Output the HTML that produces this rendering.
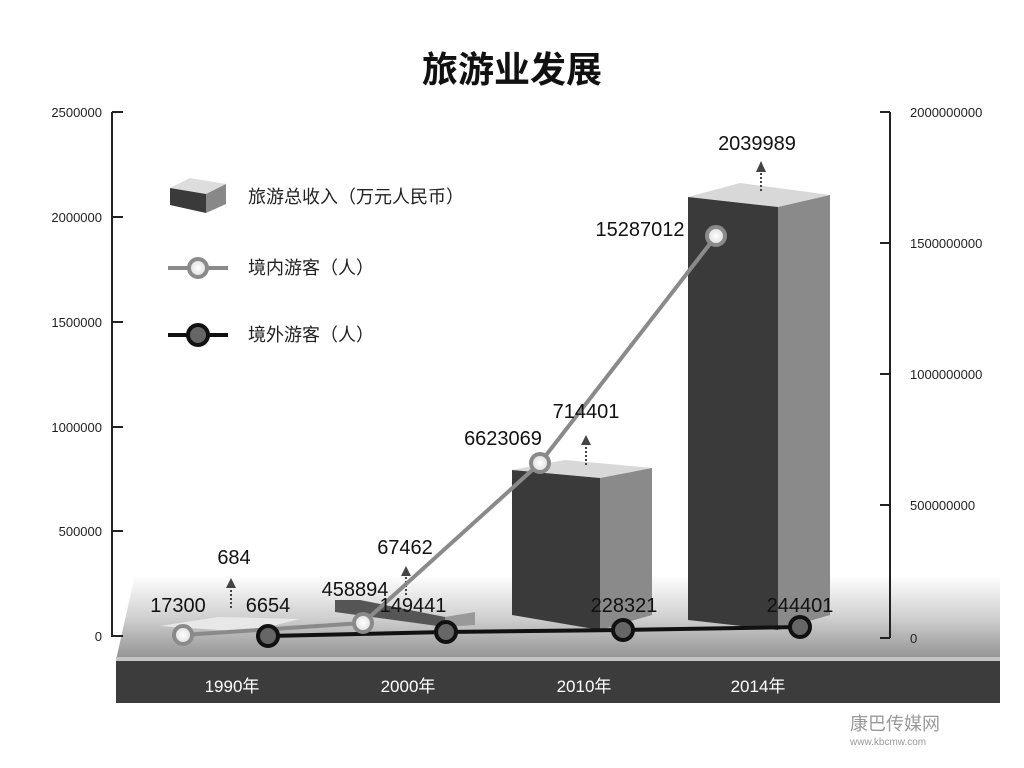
<!DOCTYPE html>
<html><head><meta charset="utf-8"><style>
html,body{margin:0;padding:0;background:#fff;}
svg{display:block;font-family:"Liberation Sans","Noto Sans CJK SC",sans-serif;}
</style></head><body>
<svg width="1024" height="768" viewBox="0 0 1024 768">
<defs>
<linearGradient id="fl" x1="0" y1="0" x2="0" y2="1">
<stop offset="0" stop-color="#ffffff"/><stop offset="0.5" stop-color="#d0d0d0"/><stop offset="0.75" stop-color="#b0b0b0"/><stop offset="1" stop-color="#909090"/>
</linearGradient>
<radialGradient id="lc"><stop offset="0" stop-color="#fff"/><stop offset="1" stop-color="#ddd"/></radialGradient>
</defs>
<rect width="1024" height="768" fill="#fff"/>
<text x="512" y="82" font-size="36" text-anchor="middle" fill="#111" font-weight="bold">旅游业发展</text>
<!-- floor -->
<polygon points="135,575 1000,575 1000,660 116,660" fill="url(#fl)"/>
<rect x="116" y="657" width="884" height="4" fill="#c4c4c4"/>
<rect x="116" y="661" width="884" height="42" fill="#3c3c3c"/>
<g font-size="17" fill="#fff" text-anchor="middle">
<text x="232" y="692">1990年</text><text x="408" y="692">2000年</text><text x="584" y="692">2010年</text><text x="758" y="692">2014年</text></g>
<g stroke="#222" stroke-width="2"><line x1="112" y1="112" x2="112" y2="637"/>
<line x1="112" y1="112" x2="123" y2="112"/><line x1="112" y1="217" x2="123" y2="217"/><line x1="112" y1="322" x2="123" y2="322"/><line x1="112" y1="427" x2="123" y2="427"/><line x1="112" y1="531" x2="123" y2="531"/><line x1="112" y1="636" x2="123" y2="636"/>
<line x1="890" y1="112" x2="890" y2="638"/>
<line x1="880" y1="112" x2="890" y2="112"/><line x1="880" y1="243" x2="890" y2="243"/><line x1="880" y1="374" x2="890" y2="374"/><line x1="880" y1="505" x2="890" y2="505"/><line x1="880" y1="638" x2="890" y2="638"/></g>
<g font-size="13" fill="#222" text-anchor="end">
<text x="102" y="117">2500000</text><text x="102" y="222">2000000</text><text x="102" y="327">1500000</text><text x="102" y="432">1000000</text><text x="102" y="536">500000</text><text x="102" y="641">0</text></g>
<g font-size="13" fill="#222">
<text x="910" y="117">2000000000</text><text x="910" y="248">1500000000</text><text x="910" y="379">1000000000</text><text x="910" y="510">500000000</text><text x="910" y="643">0</text></g>
<polygon points="160,626 218,617 300,619 248,632" fill="#e8e8e8"/>
<polygon points="335,600 360,600 445,617 445,627 335,612" fill="#555"/>
<polygon points="445,617 475,612 475,625 445,627" fill="#999"/>
<polygon points="512,470 600,478 652,468 565,460" fill="#d8d8d8"/>
<polygon points="512,470 600,478 600,630 512,615" fill="#3a3a3a"/>
<polygon points="600,478 652,468 652,615 600,630" fill="#8a8a8a"/>
<polygon points="688,197 778,207 830,195 740,183" fill="#d8d8d8"/>
<polygon points="688,197 778,207 778,630 688,620" fill="#3a3a3a"/>
<polygon points="778,207 830,195 830,615 778,630" fill="#8a8a8a"/>
<g stroke="#444" stroke-width="2" stroke-dasharray="2,2"><line x1="231" y1="608" x2="231" y2="586"/><line x1="406" y1="595" x2="406" y2="574"/><line x1="586" y1="465" x2="586" y2="443"/><line x1="761" y1="191" x2="761" y2="170"/></g>
<g fill="#444"><polygon points="226,588 236,588 231,578"/><polygon points="401,576 411,576 406,566"/><polygon points="581,445 591,445 586,435"/><polygon points="756,172 766,172 761,161"/></g>
<polyline points="183,635 363,623 540,463 716,236" fill="none" stroke="#8a8a8a" stroke-width="4"/>
<polyline points="268,636 446,632 623,630 800,627" fill="none" stroke="#111" stroke-width="4"/>
<g fill="url(#lc)" stroke="#8a8a8a" stroke-width="4"><circle cx="183" cy="635" r="9"/><circle cx="363" cy="623" r="9"/><circle cx="540" cy="463" r="9"/><circle cx="716" cy="236" r="9"/></g>
<g fill="#666" stroke="#111" stroke-width="4"><circle cx="268" cy="636" r="10"/><circle cx="446" cy="632" r="10"/><circle cx="623" cy="630" r="10"/><circle cx="800" cy="627" r="10"/></g>
<g font-size="20" fill="#111" text-anchor="middle">
<text x="178" y="612">17300</text><text x="234" y="564">684</text><text x="268" y="612">6654</text>
<text x="355" y="596">458894</text><text x="405" y="554">67462</text><text x="413" y="612">149441</text>
<text x="503" y="445">6623069</text><text x="586" y="418">714401</text><text x="624" y="612">228321</text>
<text x="640" y="236">15287012</text><text x="757" y="150">2039989</text><text x="800" y="612">244401</text></g>
<polygon points="170,188 190,178 226,184 206,194" fill="#ddd"/>
<polygon points="170,188 206,194 206,213 170,205" fill="#3a3a3a"/>
<polygon points="206,194 226,184 226,204 206,213" fill="#888"/>
<g font-size="18" fill="#222"><text x="248" y="203">旅游总收入（万元人民币）</text><text x="248" y="274">境内游客（人）</text><text x="248" y="341">境外游客（人）</text></g>
<line x1="168" y1="268" x2="228" y2="268" stroke="#8a8a8a" stroke-width="4"/>
<circle cx="198" cy="268" r="9" fill="url(#lc)" stroke="#8a8a8a" stroke-width="4"/>
<line x1="168" y1="335" x2="228" y2="335" stroke="#111" stroke-width="4"/>
<circle cx="198" cy="335" r="10" fill="#666" stroke="#111" stroke-width="4"/>
<text x="850" y="730" font-size="18" fill="#999">康巴传媒网</text>
<text x="850" y="745" font-size="10" fill="#999">www.kbcmw.com</text>
</svg>
</body></html>
